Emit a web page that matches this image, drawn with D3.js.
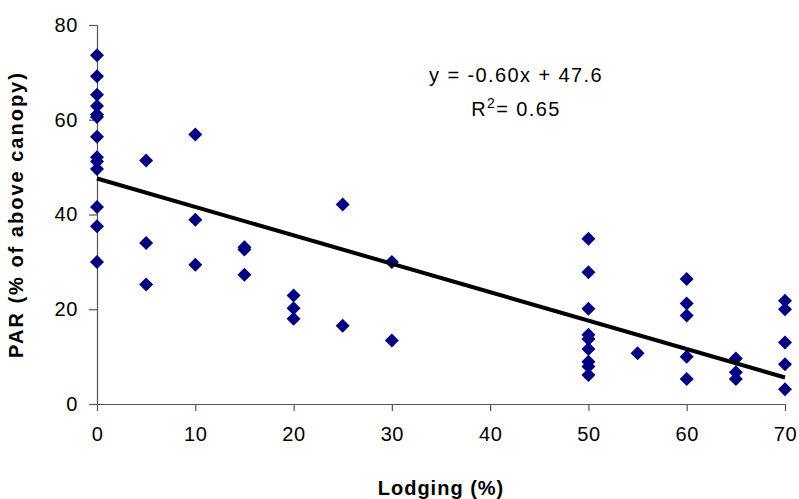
<!DOCTYPE html>
<html>
<head>
<meta charset="utf-8">
<script src="https://cdn.jsdelivr.net/npm/d3@7"></script>
<style>
  body { margin: 0; background: #fff; }
  svg text { font-family: "Liberation Sans", Arial, sans-serif; fill: #000; }
</style>
</head>
<body>
<div id="chart"></div>
<script>
// lodging (%) and PAR (% of above canopy) pairs
const lodging = [
  0, 0, 0, 0, 0, 0, 0, 0, 0, 0, 0, 0, 0,
  5, 5, 5,
  10, 10, 10,
  15, 15, 15,
  20, 20, 20,
  25, 25,
  30, 30,
  50, 50, 50, 50, 50, 50, 50, 50, 50,
  55,
  60, 60, 60, 60, 60,
  65, 65, 65,
  70, 70, 70, 70, 70
];
const par = [
  73.6, 69.2, 65.3, 62.9, 61.1, 60.6, 56.4, 52.1, 51.2, 49.6, 41.6, 37.5, 30.0,
  51.4, 34.0, 25.2,
  56.9, 38.9, 29.4,
  33.1, 32.6, 27.3,
  22.9, 20.2, 18.0,
  42.1, 16.5,
  30.0, 13.4,
  34.9, 27.8, 20.1, 14.6, 13.7, 11.6, 8.9, 7.9, 6.1,
  10.7,
  26.4, 21.2, 18.7, 10.0, 5.3,
  9.6, 6.7, 5.3,
  21.8, 20.0, 13.0, 8.4, 3.1
];
const slope = -0.60, intercept = 47.6;
const xTicks = [0, 10, 20, 30, 40, 50, 60, 70];
const yTicks = [0, 20, 40, 60, 80];

const W = 799, H = 499;
const margin = { top: 25, right: 14, bottom: 95, left: 97 };
const width = W - margin.left - margin.right;
const height = H - margin.top - margin.bottom;

const svg = d3.select('#chart').append('svg')
  .attr('width', W).attr('height', H);
const g = svg.append('g')
  .attr('transform', `translate(${margin.left},${margin.top})`);

const x = d3.scaleLinear().domain([0, 70]).range([0, width]);
const y = d3.scaleLinear().domain([0, 80]).range([height, 0]);

// Axes
const xAxis = g.append('g')
  .attr('transform', `translate(0,${height})`)
  .call(d3.axisBottom(x).tickValues(xTicks).tickSize(7).tickSizeOuter(0).tickPadding(16));
const yAxis = g.append('g')
  .call(d3.axisLeft(y).tickValues(yTicks).tickSize(8).tickSizeOuter(0).tickPadding(11));

[xAxis, yAxis].forEach(a => {
  a.selectAll('path, line').attr('stroke', '#555').attr('stroke-width', 1.2);
  a.selectAll('text')
    .style('font-size', '20px')
    .style('letter-spacing', '0.6px')
    .style('font-family', '"Liberation Sans", Arial, sans-serif')
    .attr('fill', '#000');
});

// Points
const diamond = 'M0,-7L7,0L0,7L-7,0Z';
g.selectAll('.pt')
  .data(lodging.map((d, i) => ({ x: d, y: par[i] })))
  .enter().append('path')
  .attr('class', 'pt')
  .attr('d', diamond)
  .attr('transform', d => `translate(${x(d.x)},${y(d.y)})`)
  .attr('fill', '#000080');

// Trend line
g.append('line')
  .attr('x1', x(0)).attr('y1', y(intercept))
  .attr('x2', x(70)).attr('y2', y(intercept + slope * 70))
  .attr('stroke', '#000').attr('stroke-width', 4);

// Equation
const eq = svg.append('g').style('font-size', '20px').style('letter-spacing', '1.4px');
eq.append('text')
  .attr('x', 516).attr('y', 82)
  .attr('text-anchor', 'middle')
  .text('y = -0.60x + 47.6');
const r2 = eq.append('text')
  .attr('x', 516).attr('y', 116)
  .attr('text-anchor', 'middle');
r2.append('tspan').text('R');
r2.append('tspan').attr('dy', -8).style('font-size', '14px').text('2');
r2.append('tspan').attr('dy', 8).text('= 0.65');

// Axis titles
svg.append('text')
  .attr('x', margin.left + width / 2).attr('y', 495)
  .attr('text-anchor', 'middle')
  .style('font-size', '20px').style('font-weight', 'bold')
  .style('letter-spacing', '1px')
  .text('Lodging (%)');
svg.append('text')
  .attr('transform', `translate(23,${margin.top + height / 2}) rotate(-90)`)
  .attr('text-anchor', 'middle')
  .style('font-size', '20px').style('font-weight', 'bold')
  .style('letter-spacing', '2px')
  .text('PAR (% of above canopy)');
</script>
</body>
</html>
